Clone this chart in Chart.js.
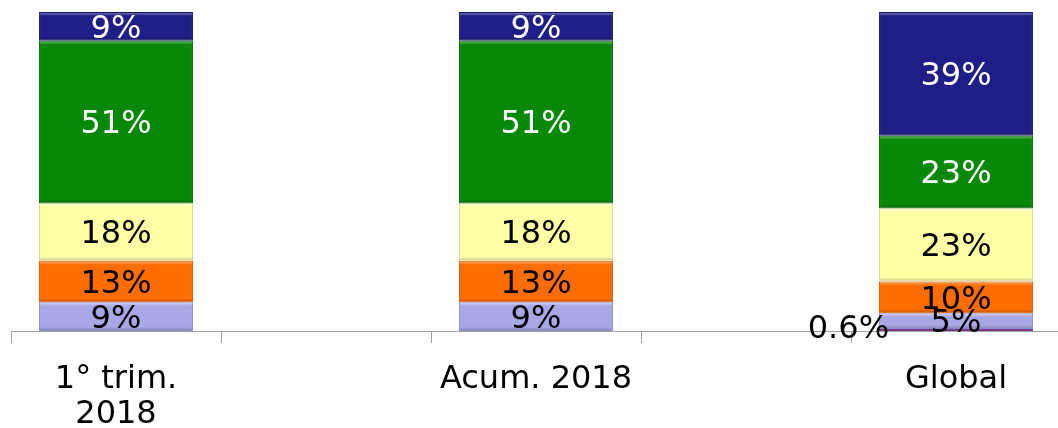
<!DOCTYPE html>
<html>
<head>
<meta charset="utf-8">
<script src="https://cdn.jsdelivr.net/npm/chart.js@4"></script>
<style>
  html, body { margin: 0; padding: 0; background: #fff; overflow: hidden; }
  #wrap { width: 1058px; height: 428px; overflow: hidden; position: relative; }
  canvas { display: block; }
</style>
</head>
<body>
<div id="wrap"><canvas id="c" width="1070" height="428"></canvas></div>
<script>
// ---- data ----
const categories = [["1° trim.", "2018"], "", "Acum. 2018", "", "Global"];
const seriesTiny     = [0,  null, 0,  null, 0.6];
const seriesLavender = [9,  null, 9,  null, 5];
const seriesOrange   = [13, null, 13, null, 10];
const seriesYellow   = [18, null, 18, null, 23];
const seriesGreen    = [51, null, 51, null, 23];
const seriesNavy     = [9,  null, 9,  null, 39];

const rawSeries = [seriesTiny, seriesLavender, seriesOrange, seriesYellow, seriesGreen, seriesNavy];
const fills   = ['#8c4a9c', '#a8a8e6', '#ff6d00', '#ffffa6', '#088808', '#1e1e86'];
const borders = ['#7a3a8a', '#8c8cc8', '#d85a00', '#d8d88c', '#066a06', '#14146a'];
const labelColors = ['#000', '#000', '#000', '#000', '#fff', '#fff'];

// 100% stacked: normalise each category by its total
const totals = categories.map((_, i) => rawSeries.reduce((s, arr) => s + (arr[i] || 0), 0));
const datasets = rawSeries.map((arr, k) => ({
  label: 'S' + k,
  data: arr.map((v, i) => v == null ? null : (totals[i] ? v / totals[i] * 100 : 0)),
  raw: arr,
  backgroundColor: fills[k],
  borderColor: borders[k],
  borderWidth: 1,
  borderSkipped: false,
  barPercentage: 1,
  categoryPercentage: 0.733,
  labelColor: labelColors[k]
}));

const FONT = '"DejaVu Sans", Verdana, sans-serif';

// subtle bevel: light top edge, dark bottom edge on each segment
const bevelPlugin = {
  id: 'bevel',
  afterDatasetsDraw(chart) {
    const ctx = chart.ctx;
    ctx.save();
    chart.data.datasets.forEach((ds, di) => {
      chart.getDatasetMeta(di).data.forEach((el, i) => {
        const v = ds.raw[i];
        if (v == null || v < 1) return;
        const l = el.x - el.width / 2, r = el.x + el.width / 2;
        const t = Math.min(el.y, el.base), b = Math.max(el.y, el.base);
        const h = b - t;
        const e = Math.min(4, h / 4);
        let g = ctx.createLinearGradient(0, t, 0, t + e);
        g.addColorStop(0, 'rgba(255,255,255,0.45)');
        g.addColorStop(1, 'rgba(255,255,255,0)');
        ctx.fillStyle = g;
        ctx.fillRect(l + 1, t + 1, r - l - 2, e);
        g = ctx.createLinearGradient(0, b - e, 0, b);
        g.addColorStop(0, 'rgba(0,0,0,0)');
        g.addColorStop(1, 'rgba(0,0,0,0.25)');
        ctx.fillStyle = g;
        ctx.fillRect(l + 1, b - e - 1, r - l - 2, e);
      });
    });
    ctx.restore();
  }
};

const labelPlugin = {
  id: 'segLabels',
  afterDatasetsDraw(chart) {
    const ctx = chart.ctx;
    ctx.save();
    ctx.font = '32px ' + FONT;
    ctx.textBaseline = 'middle';
    chart.data.datasets.forEach((ds, di) => {
      const meta = chart.getDatasetMeta(di);
      meta.data.forEach((el, i) => {
        const v = ds.raw[i];
        if (v == null || v === 0) return;
        const txt = v + '%';
        if (v < 1) {
          ctx.fillStyle = '#000';
          ctx.textAlign = 'right';
          ctx.fillText(txt, el.x - el.width / 2 + 10, el.y + 1);
        } else {
          ctx.fillStyle = ds.labelColor;
          ctx.textAlign = 'center';
          ctx.fillText(txt, el.x, (el.y + el.base) / 2 + 3);
        }
      });
    });
    ctx.restore();
  }
};

new Chart(document.getElementById('c'), {
  type: 'bar',
  data: { labels: categories, datasets },
  options: {
    responsive: false,
    animation: false,
    devicePixelRatio: 1,
    layout: { padding: { left: 11, right: 9, top: 12, bottom: 0 } },
    plugins: { legend: { display: false }, tooltip: { enabled: false } },
    scales: {
      x: {
        stacked: true,
        offset: true,
        grid: { offset: true, drawOnChartArea: false, drawTicks: true, tickLength: 12, color: '#a0a0a0', lineWidth: 1 },
        border: { display: true, color: '#a0a0a0', width: 1 },
        ticks: {
          color: '#000',
          font: { family: FONT, size: 32, lineHeight: 1.1 },
          padding: 19,
          maxRotation: 0,
          autoSkip: false
        },
        afterFit(s) { s.height = 97; }
      },
      y: {
        stacked: true,
        display: false,
        min: 0,
        max: 100
      }
    }
  },
  plugins: [bevelPlugin, labelPlugin]
});
</script>
</body>
</html>
